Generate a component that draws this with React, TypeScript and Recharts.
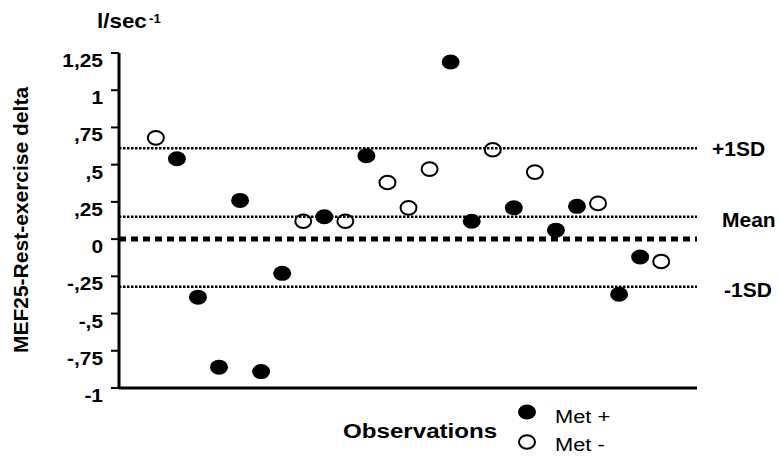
import { ScatterChart, Scatter, XAxis, YAxis, ReferenceLine, Customized } from 'recharts';

// observation index (x) and delta value (y) for each group
const metPlusObs = [2, 3, 4, 5, 6, 7, 9, 11, 15, 16, 18, 20, 21, 23, 24];
const metPlusDelta = [0.54, -0.39, -0.86, 0.26, -0.89, -0.23, 0.15, 0.56, 1.19, 0.12, 0.21, 0.06, 0.22, -0.37, -0.12];
const metMinusObs = [1, 8, 10, 12, 13, 14, 17, 19, 22, 25];
const metMinusDelta = [0.68, 0.12, 0.12, 0.38, 0.21, 0.47, 0.6, 0.45, 0.24, -0.15];

const yTicks = [-1, -0.75, -0.5, -0.25, 0, 0.25, 0.5, 0.75, 1, 1.25];
const yTickLabels = ['-1', '-,75', '-,5', '-,25', '0', ',25', ',5', ',75', '1', '1,25'];

const plusSD = 0.61;
const meanDelta = 0.15;
const minusSD = -0.32;

const FONT = '"Liberation Sans", Arial, Helvetica, sans-serif';

const metPlus = metPlusObs.map((x, i) => ({ x, y: metPlusDelta[i] }));
const metMinus = metMinusObs.map((x, i) => ({ x, y: metMinusDelta[i] }));

function Txt({ x, y, size, children, weight = 'bold', anchor = 'start', sx = 1.1 }: any) {
  return (
    <text
      transform={`translate(${x},${y}) scale(${sx},1)`}
      textAnchor={anchor}
      fontFamily={FONT}
      fontSize={size}
      fontWeight={weight}
      fill="#000"
    >
      {children}
    </text>
  );
}

const FilledDot = (p: any) => <ellipse cx={p.cx} cy={p.cy} rx={9} ry={7.5} fill="#000" />;
const OpenDot = (p: any) => (
  <ellipse cx={p.cx} cy={p.cy} rx={8} ry={6.8} fill="none" stroke="#000" strokeWidth={2} />
);

const YTick = (p: any) => {
  const idx = yTicks.indexOf(p.payload.value);
  return (
    <Txt x={p.x} y={p.y + 14} size={18.5} anchor="end" sx={1.13}>
      {yTickLabels[idx]}
    </Txt>
  );
};

const sdLabel = (text: string, gap: number, dy: number) => (props: any) => {
  const vb = props.viewBox;
  return (
    <Txt x={vb.x + vb.width + gap} y={vb.y + dy} size={20} sx={1.05}>
      {text}
    </Txt>
  );
};

const Extras = () => (
  <g>
    <Txt x={97} y={28} size={20} sx={1.12}>l/sec</Txt>
    <Txt x={149} y={23} size={12} sx={1.1}>-1</Txt>
    <text
      transform="translate(28,220) rotate(-90)"
      textAnchor="middle"
      fontFamily={FONT}
      fontSize={21}
      fontWeight="bold"
      fill="#000"
    >
      MEF25-Rest-exercise delta
    </text>
    <Txt x={343} y={438} size={21} sx={1.15}>Observations</Txt>
    <ellipse cx={527} cy={412} rx={9} ry={7.5} fill="#000" />
    <ellipse cx={527} cy={442} rx={8} ry={6.8} fill="#fff" stroke="#000" strokeWidth={2} />
    <Txt x={555} y={423} size={19} weight="normal" sx={1.15}>Met +</Txt>
    <Txt x={555} y={451} size={19} weight="normal" sx={1.15}>Met -</Txt>
  </g>
);

export default function App() {
  return (
    <div style={{ position: 'absolute', left: 0, top: 0, width: 780, height: 456, background: '#fff' }}>
      <ScatterChart width={780} height={456} margin={{ top: 53, right: 83, bottom: 0, left: 0 }}>
        <XAxis
          type="number"
          dataKey="x"
          domain={[-0.75, 26.7]}
          tick={false}
          tickLine={false}
          height={68}
          axisLine={{ stroke: '#000', strokeWidth: 3 }}
          allowDataOverflow
        />
        <YAxis
          type="number"
          dataKey="y"
          domain={[-1, 1.25]}
          ticks={yTicks}
          width={119}
          tickSize={8}
          tickMargin={8}
          tick={YTick}
          tickLine={{ stroke: '#000', strokeWidth: 2 }}
          axisLine={{ stroke: '#000', strokeWidth: 3 }}
          interval={0}
        />
        <ReferenceLine y={plusSD} stroke="#000" strokeWidth={2.5} strokeDasharray="2.5 1.5" label={sdLabel('+1SD', 15, 8)} />
        <ReferenceLine y={meanDelta} stroke="#000" strokeWidth={2.5} strokeDasharray="2.5 1.5" label={sdLabel('Mean', 25, 10)} />
        <ReferenceLine y={minusSD} stroke="#000" strokeWidth={2.5} strokeDasharray="2.5 1.5" label={sdLabel('-1SD', 27, 10)} />
        <ReferenceLine y={0} stroke="#000" strokeWidth={5} strokeDasharray="7 5" />
        <Scatter data={metPlus} shape={FilledDot} isAnimationActive={false} />
        <Scatter data={metMinus} shape={OpenDot} isAnimationActive={false} />
        <Customized component={Extras} />
      </ScatterChart>
    </div>
  );
}
